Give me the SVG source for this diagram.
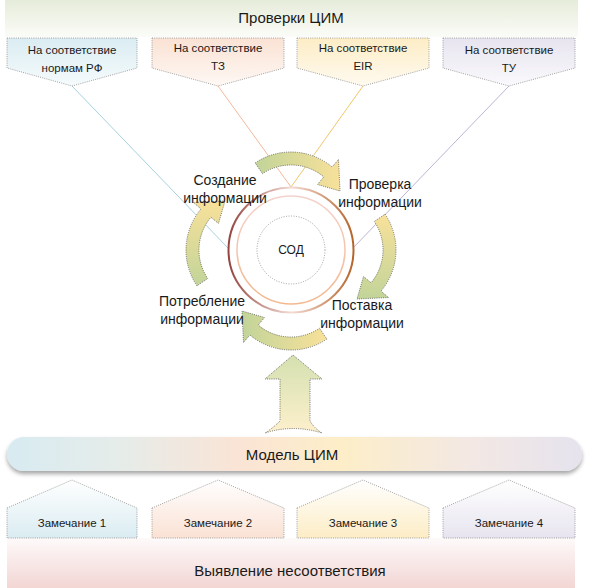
<svg xmlns="http://www.w3.org/2000/svg" xmlns:xlink="http://www.w3.org/1999/xlink" width="590" height="588" viewBox="0 0 590 588">
<style>
text{font-family:"Liberation Sans",Arial,sans-serif;fill:#1a1a1a;text-anchor:middle;dominant-baseline:central}
.sm{font-size:11.5px}
.lbl{font-size:14px}
.big{font-size:15px}
.dot{stroke:#555;stroke-width:0.8;stroke-dasharray:1 1.2}
.dotl{stroke:#8a8a8a;stroke-width:0.8;stroke-dasharray:1 1.2}
.ln{fill:none;stroke-width:1}
</style>
<defs>
<linearGradient id="gBand" x1="0" y1="0" x2="0" y2="1"><stop offset="0" stop-color="#e6ecda"/><stop offset="1" stop-color="#fbfcf8"/></linearGradient>
<linearGradient id="gT1" x1="0" y1="0" x2="0" y2="1"><stop offset="0" stop-color="#daecf2"/><stop offset="1" stop-color="#f6fbfc"/></linearGradient>
<linearGradient id="gT2" x1="0" y1="0" x2="0" y2="1"><stop offset="0" stop-color="#fae2d4"/><stop offset="1" stop-color="#fef8f4"/></linearGradient>
<linearGradient id="gT3" x1="0" y1="0" x2="0" y2="1"><stop offset="0" stop-color="#fdedc6"/><stop offset="1" stop-color="#fffaf0"/></linearGradient>
<linearGradient id="gT4" x1="0" y1="0" x2="0" y2="1"><stop offset="0" stop-color="#e7e4ef"/><stop offset="1" stop-color="#faf9fc"/></linearGradient>
<linearGradient id="gB1" x1="0" y1="0" x2="0" y2="1"><stop offset="0" stop-color="#ffffff"/><stop offset="1" stop-color="#daecf2"/></linearGradient>
<linearGradient id="gB2" x1="0" y1="0" x2="0" y2="1"><stop offset="0" stop-color="#ffffff"/><stop offset="1" stop-color="#fae2d4"/></linearGradient>
<linearGradient id="gB3" x1="0" y1="0" x2="0" y2="1"><stop offset="0" stop-color="#ffffff"/><stop offset="1" stop-color="#fdedc6"/></linearGradient>
<linearGradient id="gB4" x1="0" y1="0" x2="0" y2="1"><stop offset="0" stop-color="#ffffff"/><stop offset="1" stop-color="#e7e4ef"/></linearGradient>
<linearGradient id="gBottom" x1="0" y1="0" x2="0" y2="1"><stop offset="0" stop-color="#fefafa"/><stop offset="1" stop-color="#f2d6d4"/></linearGradient>
<linearGradient id="gModel" x1="0" y1="0" x2="1" y2="0"><stop offset="0" stop-color="#d8ebf1"/><stop offset="0.2" stop-color="#e6ece9"/><stop offset="0.4" stop-color="#fae4d6"/><stop offset="0.58" stop-color="#fdeec8"/><stop offset="0.8" stop-color="#f3e8e3"/><stop offset="1" stop-color="#e6e3ee"/></linearGradient>
<linearGradient id="gUp" x1="0" y1="0" x2="0" y2="1"><stop offset="0" stop-color="#d4e0b0"/><stop offset="1" stop-color="#fdf0cc"/></linearGradient>
<linearGradient id="gA" x1="0" y1="0" x2="1" y2="0"><stop offset="0" stop-color="#c2d499"/><stop offset="1" stop-color="#f8e19a"/></linearGradient>
<linearGradient id="gBb" x1="0" y1="0" x2="1" y2="0"><stop offset="0" stop-color="#f8e19a"/><stop offset="1" stop-color="#c2d499"/></linearGradient>
<linearGradient id="gRing" x1="0" y1="0" x2="1" y2="0"><stop offset="0" stop-color="#94443f"/><stop offset="0.5" stop-color="#f3dcd6"/><stop offset="1" stop-color="#b5652a"/></linearGradient>
<linearGradient id="gRing2" x1="0" y1="0" x2="0" y2="1"><stop offset="0" stop-color="#f3d2cc"/><stop offset="1" stop-color="#f4b88e"/></linearGradient>
<filter id="sh" x="-5%" y="-30%" width="110%" height="180%"><feGaussianBlur in="SourceAlpha" stdDeviation="2"/><feOffset dx="0" dy="3"/><feComponentTransfer><feFuncA type="linear" slope="0.35"/></feComponentTransfer><feMerge><feMergeNode/><feMergeNode in="SourceGraphic"/></feMerge></filter>
<path id="arc" d="M255.2,162.9 A64,64 0 0 1 332.1,167 L338.5,159.5 L340,191 L317.5,184.5 L323.8,176.9 A51,51 0 0 0 262.5,173.7 Z"/>
</defs>

<g id="band-top">
<rect x="5" y="0" width="573" height="37" fill="url(#gBand)"/>
<text class="big" x="291" y="17">Проверки ЦИМ</text>
</g>

<g id="connectors">
<line class="ln" x1="72" y1="86" x2="228" y2="248" stroke="#a6d2df"/>
<line class="ln" x1="218" y1="86" x2="291" y2="187" stroke="#f4b89a"/>
<line class="ln" x1="363" y1="86" x2="291" y2="187" stroke="#f0c86a"/>
<line class="ln" x1="509" y1="86" x2="353" y2="248" stroke="#bfb4d6"/>
</g>

<g id="check1">
<path d="M7,38 H137 V68 L72,86 L7,68 Z" fill="url(#gT1)" class="dotl"/>
<text class="sm" x="72" y="50">На соответствие</text>
<text class="sm" x="72" y="68">нормам РФ</text>
</g>
<g id="check2">
<path d="M152,38 H284 V68 L218,86 L152,68 Z" fill="url(#gT2)" class="dotl"/>
<text class="sm" x="218" y="48">На соответствие</text>
<text class="sm" x="218" y="66">ТЗ</text>
</g>
<g id="check3">
<path d="M297,38 H429 V68 L363,86 L297,68 Z" fill="url(#gT3)" class="dotl"/>
<text class="sm" x="363" y="48">На соответствие</text>
<text class="sm" x="363" y="66">EIR</text>
</g>
<g id="check4">
<path d="M443,38 H575 V68 L509,86 L443,68 Z" fill="url(#gT4)" class="dotl"/>
<text class="sm" x="509" y="50">На соответствие</text>
<text class="sm" x="509" y="68">ТУ</text>
</g>

<g id="cycle-arrows">
<use xlink:href="#arc" href="#arc" fill="url(#gA)" class="dot"/>
<use xlink:href="#arc" href="#arc" fill="url(#gBb)" class="dot" transform="translate(7,0) rotate(90 291 250)"/>
<use xlink:href="#arc" href="#arc" fill="url(#gBb)" class="dot" transform="translate(0,2) rotate(180 291 250)"/>
<use xlink:href="#arc" href="#arc" fill="url(#gA)" class="dot" transform="translate(-7,0) rotate(270 291 250)"/>
</g>

<g id="sod">
<circle cx="291" cy="250" r="62.5" fill="#ffffff" stroke="url(#gRing)" stroke-width="2"/>
<circle cx="291" cy="250" r="54" fill="none" stroke="url(#gRing2)" stroke-width="1.5"/>
<circle cx="291" cy="250" r="34" fill="none" stroke="#888" stroke-width="0.8" stroke-dasharray="1 1.5"/>
<text x="291" y="250" style="font-size:12px">СОД</text>
</g>

<g id="lbl-create"><text class="lbl" x="225" y="180">Создание</text><text class="lbl" x="225" y="198">информации</text></g>
<g id="lbl-check"><text class="lbl" x="380" y="184">Проверка</text><text class="lbl" x="380" y="202">информации</text></g>
<g id="lbl-supply"><text class="lbl" x="362" y="305">Поставка</text><text class="lbl" x="362" y="323">информации</text></g>
<g id="lbl-consume"><text class="lbl" x="202" y="301">Потребление</text><text class="lbl" x="202" y="319">информации</text></g>

<g id="up-arrow">
<path d="M293,355 L322,379 L310,379 L310,421 Q314,428 322,433 Q293,424 265,433 Q273,428 280,421 L280,379 L265,379 Z" fill="url(#gUp)" class="dot"/>
</g>

<g id="model">
<rect x="7" y="437" width="575" height="34" rx="17" fill="url(#gModel)" filter="url(#sh)"/>
<text class="big" x="292" y="454">Модель ЦИМ</text>
</g>

<g id="band-bottom">
<rect x="7" y="538" width="568" height="50" fill="url(#gBottom)"/>
<text class="big" x="290" y="570">Выявление несоответствия</text>
</g>

<g id="note1">
<path d="M7,508 L72,480 L137,508 V538 H7 Z" fill="url(#gB1)" class="dotl"/>
<text class="sm" x="72" y="523">Замечание 1</text>
</g>
<g id="note2">
<path d="M152,508 L218,480 L284,508 V538 H152 Z" fill="url(#gB2)" class="dotl"/>
<text class="sm" x="218" y="523">Замечание 2</text>
</g>
<g id="note3">
<path d="M297,508 L363,480 L429,508 V538 H297 Z" fill="url(#gB3)" class="dotl"/>
<text class="sm" x="363" y="523">Замечание 3</text>
</g>
<g id="note4">
<path d="M443,508 L509,480 L575,508 V538 H443 Z" fill="url(#gB4)" class="dotl"/>
<text class="sm" x="509" y="523">Замечание 4</text>
</g>
</svg>
